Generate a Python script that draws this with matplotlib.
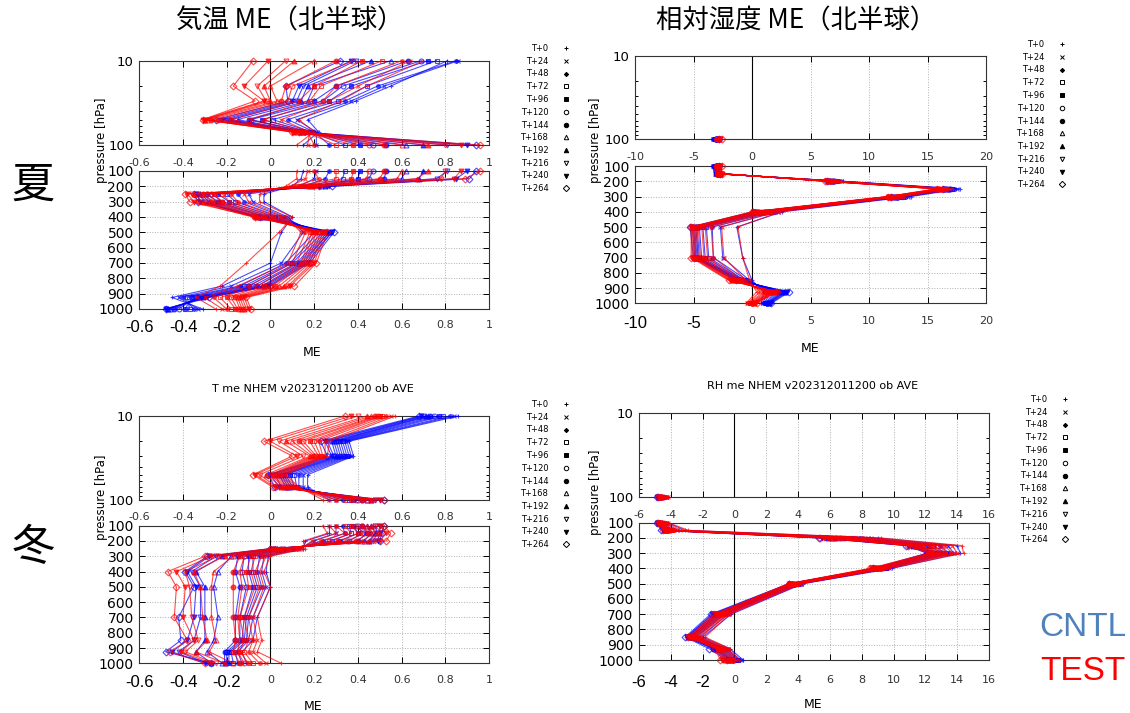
import numpy as np
import matplotlib
matplotlib.use("Agg")
import matplotlib.pyplot as plt
from matplotlib.lines import Line2D
from matplotlib.ticker import LogLocator, NullFormatter

plt.rcParams['font.family'] = ['DejaVu Sans']

# forecast times and gnuplot-like point types
times = ["T+0", "T+24", "T+48", "T+72", "T+96", "T+120", "T+144",
         "T+168", "T+192", "T+216", "T+240", "T+264"]
markers = ['+', 'x', (8, 2, 0), 's', 's', 'o', 'o', '^', '^', 'v', 'v', 'D']
filled = [True, True, True, False, True, False, True, False, True, False, True, False]

t_levels = [10, 20, 30, 50, 70, 100, 150, 200, 250, 300, 400, 500, 700, 850, 925, 1000]
rh_levels = [100, 150, 200, 250, 300, 400, 500, 700, 850, 925, 1000]

# rows = levels, columns = T+0 ... T+264
t_summer_cntl = [
    [0.81, 0.86, 0.85, 0.76, 0.72, 0.69, 0.63, 0.55, 0.46, 0.39, 0.37, 0.32],
    [0.55, 0.52, 0.49, 0.44, 0.37, 0.33, 0.30, 0.20, 0.17, 0.15, 0.13, 0.07],
    [0.39, 0.37, 0.34, 0.31, 0.27, 0.24, 0.20, 0.17, 0.14, 0.12, 0.10, 0.08],
    [0.17, 0.12, 0.08, 0.01, -0.04, -0.09, -0.10, -0.15, -0.18, -0.20, -0.22, -0.25],
    [0.22, 0.21, 0.20, 0.19, 0.18, 0.17, 0.16, 0.15, 0.15, 0.14, 0.14, 0.13],
    [0.15, 0.21, 0.27, 0.34, 0.41, 0.47, 0.53, 0.62, 0.70, 0.81, 0.90, 0.94],
    [0.14, 0.20, 0.25, 0.33, 0.40, 0.45, 0.52, 0.60, 0.68, 0.76, 0.85, 0.91],
    [0.10, 0.13, 0.15, 0.17, 0.19, 0.20, 0.22, 0.23, 0.25, 0.26, 0.27, 0.28],
    [-0.03, -0.10, -0.15, -0.20, -0.24, -0.27, -0.29, -0.31, -0.32, -0.33, -0.34, -0.35],
    [-0.03, -0.08, -0.12, -0.16, -0.19, -0.22, -0.24, -0.26, -0.28, -0.30, -0.32, -0.33],
    [0.10, 0.08, 0.06, 0.04, 0.02, 0.00, -0.02, -0.03, -0.05, -0.06, -0.07, -0.05],
    [0.05, 0.15, 0.20, 0.22, 0.24, 0.25, 0.26, 0.27, 0.27, 0.28, 0.28, 0.29],
    [0.00, 0.05, 0.07, 0.09, 0.10, 0.12, 0.13, 0.14, 0.15, 0.16, 0.17, 0.18],
    [-0.22, -0.18, -0.14, -0.12, -0.10, -0.08, -0.06, -0.04, -0.03, -0.02, -0.01, 0.00],
    [-0.45, -0.42, -0.40, -0.38, -0.36, -0.34, -0.33, -0.32, -0.31, -0.30, -0.29, -0.28],
    [-0.31, -0.33, -0.35, -0.37, -0.39, -0.42, -0.44, -0.46, -0.47, -0.48, -0.48, -0.48],
]
t_summer_test = [
    [0.70, 0.64, 0.60, 0.51, 0.42, 0.38, 0.30, 0.20, 0.11, 0.07, -0.01, -0.08],
    [0.44, 0.40, 0.30, 0.23, 0.20, 0.10, 0.07, 0.00, -0.03, -0.06, -0.12, -0.17],
    [0.32, 0.27, 0.24, 0.18, 0.13, 0.08, 0.05, 0.03, 0.00, -0.02, -0.03, -0.07],
    [0.13, 0.05, -0.03, -0.10, -0.18, -0.24, -0.27, -0.29, -0.30, -0.30, -0.31, -0.31],
    [0.20, 0.18, 0.17, 0.16, 0.15, 0.14, 0.13, 0.12, 0.11, 0.11, 0.10, 0.10],
    [0.12, 0.17, 0.20, 0.30, 0.38, 0.45, 0.52, 0.60, 0.72, 0.80, 0.87, 0.96],
    [0.12, 0.16, 0.22, 0.30, 0.37, 0.44, 0.50, 0.58, 0.67, 0.78, 0.84, 0.89],
    [0.07, 0.09, 0.11, 0.12, 0.14, 0.16, 0.17, 0.18, 0.19, 0.20, 0.21, 0.22],
    [-0.05, -0.12, -0.18, -0.22, -0.26, -0.29, -0.31, -0.33, -0.35, -0.36, -0.38, -0.39],
    [-0.05, -0.10, -0.15, -0.19, -0.22, -0.25, -0.27, -0.29, -0.31, -0.33, -0.35, -0.37],
    [0.10, 0.07, 0.05, 0.03, 0.01, -0.01, -0.03, -0.05, -0.06, -0.07, -0.08, -0.07],
    [0.04, 0.14, 0.16, 0.18, 0.19, 0.20, 0.21, 0.22, 0.23, 0.24, 0.25, 0.26],
    [-0.11, 0.08, 0.10, 0.12, 0.14, 0.15, 0.16, 0.17, 0.18, 0.19, 0.20, 0.21],
    [-0.23, -0.15, -0.10, -0.06, -0.03, 0.00, 0.02, 0.04, 0.06, 0.08, 0.09, 0.11],
    [-0.34, -0.30, -0.26, -0.23, -0.20, -0.18, -0.16, -0.15, -0.14, -0.13, -0.12, -0.11],
    [-0.25, -0.22, -0.20, -0.18, -0.16, -0.15, -0.14, -0.13, -0.12, -0.11, -0.10, -0.09],
]
t_winter_cntl = [
    [0.86, 0.84, 0.82, 0.79, 0.77, 0.75, 0.73, 0.72, 0.71, 0.70, 0.69, 0.68],
    [0.36, 0.35, 0.34, 0.33, 0.32, 0.31, 0.30, 0.29, 0.28, 0.26, 0.25, 0.23],
    [0.38, 0.37, 0.36, 0.35, 0.34, 0.33, 0.32, 0.31, 0.30, 0.29, 0.28, 0.26],
    [0.17, 0.15, 0.13, 0.11, 0.09, 0.07, 0.06, 0.05, 0.04, 0.02, 0.00, -0.01],
    [0.17, 0.15, 0.13, 0.12, 0.11, 0.10, 0.09, 0.08, 0.07, 0.05, 0.04, 0.02],
    [0.27, 0.30, 0.33, 0.36, 0.38, 0.40, 0.42, 0.44, 0.46, 0.48, 0.50, 0.52],
    [0.27, 0.30, 0.34, 0.37, 0.40, 0.42, 0.44, 0.46, 0.48, 0.49, 0.50, 0.51],
    [0.16, 0.20, 0.24, 0.28, 0.32, 0.36, 0.40, 0.43, 0.45, 0.47, 0.49, 0.50],
    [0.15, 0.13, 0.11, 0.09, 0.07, 0.06, 0.05, 0.04, 0.03, 0.02, 0.01, 0.00],
    [-0.01, -0.03, -0.05, -0.08, -0.10, -0.12, -0.15, -0.18, -0.22, -0.25, -0.28, -0.29],
    [-0.02, -0.04, -0.06, -0.08, -0.10, -0.13, -0.16, -0.24, -0.34, -0.36, -0.38, -0.39],
    [0.00, -0.02, -0.04, -0.06, -0.08, -0.11, -0.14, -0.26, -0.30, -0.32, -0.34, -0.35],
    [-0.06, -0.08, -0.10, -0.11, -0.12, -0.14, -0.16, -0.24, -0.30, -0.32, -0.35, -0.42],
    [-0.08, -0.10, -0.11, -0.12, -0.13, -0.14, -0.16, -0.26, -0.30, -0.35, -0.38, -0.41],
    [-0.13, -0.15, -0.16, -0.18, -0.19, -0.20, -0.21, -0.29, -0.34, -0.42, -0.45, -0.48],
    [-0.11, -0.13, -0.15, -0.17, -0.19, -0.20, -0.21, -0.22, -0.27, -0.29, -0.30, -0.27],
]
t_winter_test = [
    [0.57, 0.55, 0.53, 0.51, 0.50, 0.49, 0.48, 0.46, 0.44, 0.40, 0.37, 0.34],
    [0.27, 0.25, 0.22, 0.20, 0.18, 0.15, 0.13, 0.10, 0.07, 0.04, 0.00, -0.03],
    [0.26, 0.25, 0.24, 0.23, 0.22, 0.21, 0.20, 0.19, 0.18, 0.15, 0.12, 0.10],
    [0.07, 0.06, 0.05, 0.04, 0.03, 0.02, 0.01, 0.00, -0.02, -0.05, -0.07, -0.08],
    [0.13, 0.12, 0.11, 0.10, 0.09, 0.08, 0.07, 0.06, 0.05, 0.03, 0.02, 0.01],
    [0.24, 0.27, 0.30, 0.34, 0.37, 0.39, 0.42, 0.44, 0.46, 0.48, 0.50, 0.52],
    [0.26, 0.30, 0.34, 0.37, 0.40, 0.43, 0.45, 0.47, 0.49, 0.51, 0.53, 0.55],
    [0.15, 0.19, 0.23, 0.27, 0.31, 0.35, 0.39, 0.42, 0.45, 0.48, 0.50, 0.53],
    [0.16, 0.14, 0.12, 0.10, 0.08, 0.06, 0.05, 0.04, 0.03, 0.02, 0.01, 0.00],
    [0.00, -0.02, -0.04, -0.07, -0.09, -0.12, -0.14, -0.17, -0.21, -0.24, -0.27, -0.30],
    [-0.03, -0.05, -0.07, -0.09, -0.11, -0.14, -0.17, -0.26, -0.35, -0.39, -0.43, -0.47],
    [0.00, -0.03, -0.05, -0.07, -0.10, -0.13, -0.17, -0.27, -0.32, -0.37, -0.39, -0.43],
    [-0.06, -0.08, -0.10, -0.12, -0.14, -0.15, -0.17, -0.27, -0.31, -0.36, -0.40, -0.44],
    [-0.04, -0.06, -0.08, -0.10, -0.12, -0.14, -0.16, -0.25, -0.29, -0.33, -0.35, -0.38],
    [-0.06, -0.08, -0.10, -0.12, -0.14, -0.15, -0.17, -0.28, -0.34, -0.39, -0.41, -0.46],
    [0.05, -0.02, -0.05, -0.08, -0.10, -0.12, -0.14, -0.17, -0.21, -0.25, -0.27, -0.30],
]
rh_summer_cntl = [
    [-3.4, -3.3, -3.3, -3.2, -3.2, -3.1, -3.1, -3.0, -3.0, -2.9, -2.9, -2.8],
    [-3.2, -3.2, -3.1, -3.1, -3.0, -3.0, -2.9, -2.9, -2.8, -2.8, -2.8, -2.7],
    [7.8, 7.6, 7.4, 7.2, 7.1, 7.0, 6.9, 6.8, 6.7, 6.6, 6.5, 6.4],
    [17.8, 17.5, 17.3, 17.1, 17.0, 16.9, 16.8, 16.7, 16.6, 16.5, 16.4, 16.3],
    [13.6, 13.3, 13.1, 12.9, 12.7, 12.5, 12.4, 12.3, 12.2, 12.1, 12.0, 11.9],
    [2.6, 2.2, 1.9, 1.6, 1.4, 1.2, 1.0, 0.8, 0.6, 0.4, 0.2, 0.1],
    [-1.3, -2.7, -3.4, -3.9, -4.2, -4.5, -4.7, -4.8, -4.9, -5.0, -5.1, -5.3],
    [-0.8, -2.5, -3.3, -3.7, -4.0, -4.3, -4.5, -4.6, -4.7, -4.8, -4.9, -5.0],
    [0.0, -0.2, -0.4, -0.6, -0.7, -0.8, -0.9, -1.0, -1.1, -1.2, -1.3, -1.4],
    [1.0, 1.4, 1.7, 2.0, 2.2, 2.4, 2.6, 2.7, 2.8, 2.9, 3.0, 3.2],
    [0.8, 0.9, 1.0, 1.1, 1.2, 1.3, 1.3, 1.4, 1.4, 1.5, 1.6, 1.65],
]
rh_summer_test = [
    [-3.2, -3.1, -3.1, -3.0, -3.0, -2.9, -2.9, -2.8, -2.8, -2.7, -2.7, -2.6],
    [-3.1, -3.0, -3.0, -2.9, -2.9, -2.8, -2.8, -2.7, -2.7, -2.6, -2.6, -2.6],
    [7.6, 7.4, 7.2, 7.0, 6.9, 6.8, 6.7, 6.6, 6.5, 6.4, 6.3, 6.2],
    [17.2, 16.9, 16.7, 16.5, 16.4, 16.3, 16.2, 16.1, 16.0, 15.9, 15.8, 15.8],
    [13.0, 12.7, 12.5, 12.3, 12.1, 12.0, 11.9, 11.8, 11.7, 11.7, 11.6, 11.6],
    [2.4, 2.0, 1.7, 1.4, 1.2, 1.0, 0.8, 0.6, 0.4, 0.3, 0.1, 0.0],
    [-1.2, -2.6, -3.5, -4.0, -4.3, -4.6, -4.8, -4.9, -5.0, -5.1, -5.2, -5.2],
    [-0.8, -2.4, -3.3, -3.8, -4.1, -4.4, -4.6, -4.8, -4.9, -5.0, -5.1, -5.2],
    [-0.2, -0.5, -0.8, -1.0, -1.2, -1.4, -1.5, -1.6, -1.7, -1.8, -1.9, -2.0],
    [0.4, 0.7, 1.0, 1.2, 1.4, 1.6, 1.7, 1.8, 1.9, 2.0, 2.1, 2.1],
    [-0.5, -0.4, -0.3, -0.2, -0.1, 0.0, 0.0, 0.1, 0.2, 0.2, 0.3, 0.4],
]
rh_winter_cntl = [
    [-4.2, -4.3, -4.4, -4.5, -4.6, -4.6, -4.7, -4.7, -4.8, -4.8, -4.9, -4.9],
    [-3.1, -3.6, -3.9, -4.0, -4.1, -4.2, -4.3, -4.3, -4.4, -4.4, -4.5, -4.6],
    [9.0, 8.4, 7.9, 7.4, 7.0, 6.7, 6.4, 6.1, 5.9, 5.7, 5.5, 5.3],
    [14.0, 13.4, 12.9, 12.5, 12.2, 11.9, 11.6, 11.4, 11.2, 11.1, 10.9, 10.8],
    [14.2, 13.8, 13.5, 13.3, 13.1, 12.9, 12.7, 12.6, 12.4, 12.3, 12.2, 12.1],
    [9.9, 9.7, 9.6, 9.5, 9.4, 9.3, 9.2, 9.1, 9.0, 8.9, 8.8, 8.7],
    [4.3, 4.2, 4.1, 4.0, 3.9, 3.8, 3.7, 3.7, 3.6, 3.5, 3.5, 3.4],
    [-0.2, -0.4, -0.6, -0.7, -0.8, -0.9, -1.0, -1.1, -1.2, -1.3, -1.4, -1.5],
    [-2.0, -2.2, -2.4, -2.5, -2.6, -2.7, -2.8, -2.8, -2.9, -3.0, -3.0, -3.1],
    [-0.3, -0.5, -0.6, -0.7, -0.8, -0.9, -1.0, -1.1, -1.2, -1.3, -1.4, -1.6],
    [0.55, 0.4, 0.3, 0.2, 0.1, 0.0, -0.1, -0.2, -0.2, -0.3, -0.4, -0.5],
]
rh_winter_test = [
    [-4.15, -4.2, -4.3, -4.4, -4.5, -4.5, -4.6, -4.6, -4.7, -4.7, -4.8, -4.8],
    [-2.9, -3.4, -3.8, -3.9, -4.0, -4.1, -4.2, -4.2, -4.3, -4.4, -4.4, -4.5],
    [9.2, 8.6, 8.1, 7.6, 7.2, 6.9, 6.6, 6.3, 6.1, 5.9, 5.6, 5.4],
    [14.3, 13.7, 13.2, 12.8, 12.4, 12.1, 11.8, 11.6, 11.4, 11.2, 11.0, 10.9],
    [14.4, 14.0, 13.7, 13.4, 13.2, 13.0, 12.8, 12.7, 12.5, 12.4, 12.3, 12.2],
    [9.7, 9.5, 9.4, 9.3, 9.2, 9.1, 9.0, 8.9, 8.8, 8.7, 8.6, 8.5],
    [4.2, 4.1, 4.0, 3.9, 3.8, 3.7, 3.7, 3.6, 3.5, 3.5, 3.4, 3.4],
    [-0.3, -0.4, -0.5, -0.6, -0.7, -0.8, -0.9, -1.0, -1.0, -1.1, -1.2, -1.3],
    [-1.85, -2.1, -2.3, -2.4, -2.5, -2.6, -2.6, -2.7, -2.7, -2.8, -2.9, -2.9],
    [-0.3, -0.4, -0.5, -0.6, -0.7, -0.8, -0.8, -0.9, -1.0, -1.0, -1.1, -1.2],
    [0.3, 0.1, 0.0, -0.1, -0.2, -0.3, -0.4, -0.5, -0.6, -0.7, -0.8, -0.9],
]

W, H = 1130, 713
fig = plt.figure(figsize=(W / 100, H / 100), dpi=100)


def box(left, top, right, bottom):
    return [left / W, 1 - bottom / H, (right - left) / W, (bottom - top) / H]


def draw_panel(up_box, lo_box, levels, cntl, test, xlim, xticks, up_pad, lo_pad):
    ax_up = fig.add_axes(box(*up_box))
    ax_lo = fig.add_axes(box(*lo_box))
    lev = np.array(levels)
    for data, col in ((cntl, '#0000ff'), (test, '#ff0000')):
        arr = np.array(data)
        for j in range(12):
            for ax, sel in ((ax_up, lev <= 100), (ax_lo, lev >= 100)):
                ax.plot(arr[sel, j], lev[sel], color=col, lw=0.8, alpha=0.7,
                        marker=markers[j], ms=3.5, mew=0.8,
                        mfc=col if filled[j] else 'none', clip_on=False, zorder=3)

    # upper part: log pressure 10-100
    ax_up.set_yscale('log')
    ax_up.set_ylim(100, 10)
    ax_up.set_xlim(*xlim)
    ax_up.set_xticks(xticks)
    ax_up.set_xticklabels([('%g' % v) for v in xticks])
    ax_up.set_yticks([10, 100])
    ax_up.set_yticklabels(['10', '100'])
    ax_up.yaxis.set_minor_locator(LogLocator(subs=range(2, 10)))
    ax_up.yaxis.set_minor_formatter(NullFormatter())
    ax_up.tick_params(which='both', direction='in', top=True, right=True, length=4, width=0.7)
    ax_up.tick_params(which='minor', length=2.5)
    ax_up.tick_params(axis='y', labelsize=9.5, pad=4)
    ax_up.tick_params(axis='x', labelsize=8, labelcolor='#333333', pad=up_pad)
    ax_up.grid(axis='x', ls=':', color='#b0b0b0', lw=0.7)

    # lower part: linear pressure 100-1000
    ax_lo.set_ylim(1000, 100)
    ax_lo.set_yticks(range(100, 1001, 100))
    ax_lo.set_xlim(*xlim)
    ax_lo.set_xticks(xticks)
    ax_lo.set_xticklabels([('%g' % v) for v in xticks])
    ax_lo.tick_params(direction='in', top=True, right=True, length=4, width=0.7)
    ax_lo.tick_params(axis='y', labelsize=10, pad=4)
    ax_lo.tick_params(axis='x', labelsize=8, labelcolor='#333333', pad=lo_pad)
    ax_lo.grid(ls=':', color='#b0b0b0', lw=0.7)
    for t, v in zip(ax_lo.xaxis.get_major_ticks(), xticks):
        if v < 0:
            t.label1.set_fontsize(12)
            t.label1.set_family('Liberation Sans')
            t.label1.set_color('black')

    for ax in (ax_up, ax_lo):
        ax.axvline(0, color='black', lw=0.8, zorder=2)
        for s in ax.spines.values():
            s.set_linewidth(0.8)
            s.set_color('#333333')
    return ax_up, ax_lo


def draw_legend(right, top):
    handles = [Line2D([], [], ls='none', color='black', marker=markers[j], ms=3.2, mew=0.7,
                      mfc='black' if filled[j] else 'none') for j in range(12)]
    fig.legend(handles, times, loc='upper right', bbox_to_anchor=(right / W, 1 - top / H),
               frameon=False, markerfirst=False, fontsize=6, handlelength=1.0,
               handletextpad=1.6, labelspacing=0.45, borderpad=0, borderaxespad=0)


t_ticks = [-0.6, -0.4, -0.2, 0, 0.2, 0.4, 0.6, 0.8, 1]

draw_panel((139.3, 60.7, 489, 145), (139.3, 171, 489, 309), t_levels,
           t_summer_cntl, t_summer_test, (-0.6, 1), t_ticks, 9.5, 8)
draw_panel((635, 55.7, 986, 139.3), (635, 166, 986, 303.3), rh_levels,
           rh_summer_cntl, rh_summer_test, (-10, 20), list(range(-10, 21, 5)), 9.5, 9)
draw_panel((139.3, 416, 489, 500), (139.3, 525.7, 489, 663.3), t_levels,
           t_winter_cntl, t_winter_test, (-0.6, 1), t_ticks, 9, 8.5)
draw_panel((639, 412.7, 989, 496.7), (639, 522.7, 989, 660), rh_levels,
           rh_winter_cntl, rh_winter_test, (-6, 16), list(range(-6, 17, 2)), 9.5, 10.5)

draw_legend(570, 44)
draw_legend(1066, 40)
draw_legend(570, 400)
draw_legend(1069, 395)

# axis labels
for x, y in ((102, 140), (596, 140), (102, 497), (596, 492)):
    fig.text(x / W, 1 - y / H, 'pressure [hPa]', rotation=90, ha='center', va='center', fontsize=8.5)
for x, y in ((312, 352), (810, 349), (313, 706), (813, 705)):
    fig.text(x / W, 1 - y / H, 'ME', ha='center', va='center', fontsize=9)

fig.text(313 / W, 1 - 389 / H, 'T me NHEM v202312011200 ob AVE', ha='center', va='center', fontsize=8)
fig.text(813 / W, 1 - 386 / H, 'RH me NHEM v202312011200 ob AVE', ha='center', va='center', fontsize=8)

cjk = ['Noto Sans CJK JP', 'DejaVu Sans']
fig.text(290 / W, 1 - 21 / H, '気温 ME（北半球）', ha='center', va='center', fontsize=19, family=cjk)
fig.text(796 / W, 1 - 21 / H, '相対湿度 ME（北半球）', ha='center', va='center', fontsize=19, family=cjk)
fig.text(33 / W, 1 - 186 / H, '夏', ha='center', va='center', fontsize=31, family=cjk)
fig.text(33 / W, 1 - 548 / H, '冬', ha='center', va='center', fontsize=31, family=cjk)

fig.text(1083 / W, 1 - 628 / H, 'CNTL', ha='center', va='center', fontsize=24,
         color='#4f81bd', family='Liberation Sans')
fig.text(1083 / W, 1 - 672 / H, 'TEST', ha='center', va='center', fontsize=24,
         color='#ff0000', family='Liberation Sans')

fig.savefig('out.png', dpi=100)
